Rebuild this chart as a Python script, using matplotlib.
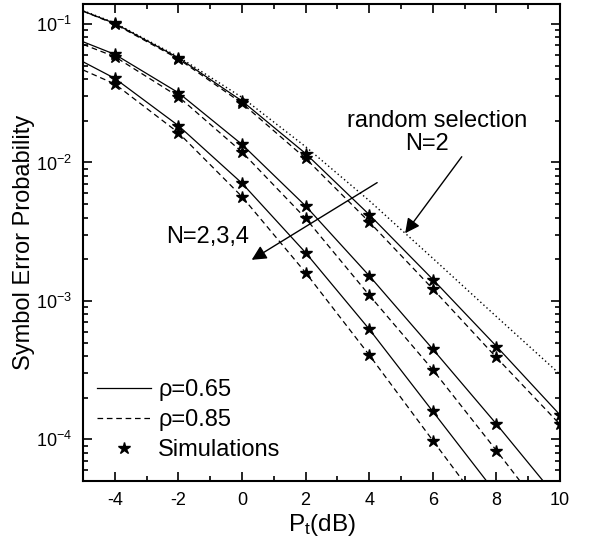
import matplotlib
matplotlib.use("Agg")
import matplotlib.pyplot as plt

# =========================
# DATA
# =========================
x_full = [-5, -4, -2, 0, 2, 4, 6, 8, 10]

# random selection, N=2 (dotted)
ser_random = [0.125, 0.102, 0.058, 0.0295, 0.013, 0.0053, 0.00203, 7.7e-4, 2.95e-4]

# rho = 0.65 (solid), N = 2, 3, 4
ser_065_n2 = [0.124, 0.101, 0.057, 0.0278, 0.0116, 0.0042, 0.00143, 4.7e-4, 1.5e-4]
x_065_n3 = [-5, -4, -2, 0, 2, 4, 6, 8, 9.47]
ser_065_n3 = [0.0745, 0.0604, 0.0319, 0.0135, 0.00485, 0.00152, 4.48e-4, 1.29e-4, 5e-5]
x_065_n4 = [-5, -4, -2, 0, 2, 4, 6, 7.69]
ser_065_n4 = [0.0534, 0.0405, 0.01845, 0.00708, 0.00223, 6.25e-4, 1.59e-4, 5e-5]

# rho = 0.85 (dashed), N = 2, 3, 4
ser_085_n2 = [0.124, 0.100, 0.056, 0.0268, 0.0107, 0.00372, 0.00122, 3.9e-4, 1.28e-4]
x_085_n3 = [-5, -4, -2, 0, 2, 4, 6, 8, 8.74]
ser_085_n3 = [0.0713, 0.0581, 0.0299, 0.0119, 0.00395, 0.0011, 3.18e-4, 8.3e-5, 5e-5]
x_085_n4 = [-5, -4, -2, 0, 2, 4, 6, 6.95]
ser_085_n4 = [0.0466, 0.0369, 0.0164, 0.00566, 0.0016, 4.07e-4, 9.8e-5, 5e-5]

# simulations (stars)
x_sim = [-4, -2, 0, 2, 4, 6, 8, 10]
sim_065_n2 = [0.101, 0.057, 0.0279, 0.0115, 0.00418, 0.00142, 4.68e-4, 1.5e-4]
sim_085_n2 = [0.100, 0.056, 0.0267, 0.0108, 0.00374, 0.00122, 3.9e-4, 1.29e-4]
sim_065_n3 = [0.0604, 0.0319, 0.01352, 0.00485, 0.00152, 4.48e-4, 1.29e-4]
sim_085_n3 = [0.0581, 0.0299, 0.01186, 0.00395, 0.0011, 3.18e-4, 8.3e-5]
sim_065_n4 = [0.0405, 0.01845, 0.00708, 0.00223, 6.25e-4, 1.59e-4]
sim_085_n4 = [0.0369, 0.0164, 0.00566, 0.0016, 4.07e-4, 9.8e-5]

x_ticks = [-4, -2, 0, 2, 4, 6, 8, 10]
y_ticks = [1e-4, 1e-3, 1e-2, 1e-1]
y_tick_labels = [r"$10^{-4}$", r"$10^{-3}$", r"$10^{-2}$", r"$10^{-1}$"]

# =========================
# STYLE
# =========================
plt.rcParams["font.family"] = ["Liberation Sans", "DejaVu Sans"]
plt.rcParams["mathtext.fontset"] = "custom"
plt.rcParams["mathtext.rm"] = "Liberation Sans"
plt.rcParams["mathtext.it"] = "Liberation Sans:italic"
plt.rcParams["mathtext.default"] = "regular"
plt.rcParams["axes.unicode_minus"] = False

fig = plt.figure(figsize=(5.89, 5.43), dpi=100)
ax = fig.add_axes([0.1409, 0.1142, 0.8099, 0.8784])

lw = 0.9
dash = (0, (4.5, 3))
star = dict(linestyle="none", marker="*", color="k", markersize=9)

# =========================
# CURVES
# =========================
ax.plot(x_full, ser_random, color="k", lw=1.0, linestyle=(0, (1, 2)))

ax.plot(x_full, ser_065_n2, color="k", lw=lw, label=u"\u03c1=0.65")
ax.plot(x_065_n3, ser_065_n3, color="k", lw=lw)
ax.plot(x_065_n4, ser_065_n4, color="k", lw=lw)

ax.plot(x_full, ser_085_n2, color="k", lw=lw, linestyle=dash, label=u"\u03c1=0.85")
ax.plot(x_085_n3, ser_085_n3, color="k", lw=lw, linestyle=dash)
ax.plot(x_085_n4, ser_085_n4, color="k", lw=lw, linestyle=dash)

ax.plot(x_sim, sim_065_n2, label="Simulations", **star)
ax.plot(x_sim, sim_085_n2, **star)
ax.plot(x_sim[:7], sim_065_n3, **star)
ax.plot(x_sim[:7], sim_085_n3, **star)
ax.plot(x_sim[:6], sim_065_n4, **star)
ax.plot(x_sim[:6], sim_085_n4, **star)

# =========================
# AXES
# =========================
ax.set_yscale("log")
ax.set_xlim(-5, 10)
ax.set_ylim(5e-5, 0.1395)
ax.set_xticks(x_ticks)
ax.set_xticks(range(-5, 11, 2), minor=True)
ax.set_yticks(y_ticks)
ax.set_yticklabels(y_tick_labels)

ax.tick_params(which="both", direction="in", top=True, right=True, width=1.2)
ax.tick_params(which="major", length=6.5, labelsize=13, pad=8)
ax.tick_params(which="minor", length=3.5)
for s in ax.spines.values():
    s.set_linewidth(1.5)

ax.set_xlabel(r"P$_t$(dB)", fontsize=17.5)
ax.set_ylabel("Symbol Error Probability", fontsize=17)
ax.xaxis.set_label_coords(0.5, -0.065)
ax.yaxis.set_label_coords(-0.1, 0.5)

# =========================
# ANNOTATIONS
# =========================
arrow = dict(arrowstyle="-|>", color="k", lw=1.0, mutation_scale=22, shrinkA=0, shrinkB=0)
ax.annotate("", xy=(5.13, 0.00308), xytext=(6.91, 0.0110), arrowprops=arrow)
ax.annotate("", xy=(0.305, 0.00198), xytext=(4.25, 0.00715), arrowprops=arrow)

ax.text(6.12, 0.0200, "random selection", fontsize=17, ha="center", va="center")
ax.text(5.83, 0.01370, "N=2", fontsize=17, ha="center", va="center")
ax.text(-1.085, 0.00291, "N=2,3,4", fontsize=17, ha="center", va="center")

ax.legend(loc="upper left", bbox_to_anchor=(0.014, 0.228), frameon=False, fontsize=17,
          handlelength=2.3, handletextpad=0.3, labelspacing=0.34, borderpad=0,
          borderaxespad=0.3)

fig.savefig("out.png", dpi=100)
